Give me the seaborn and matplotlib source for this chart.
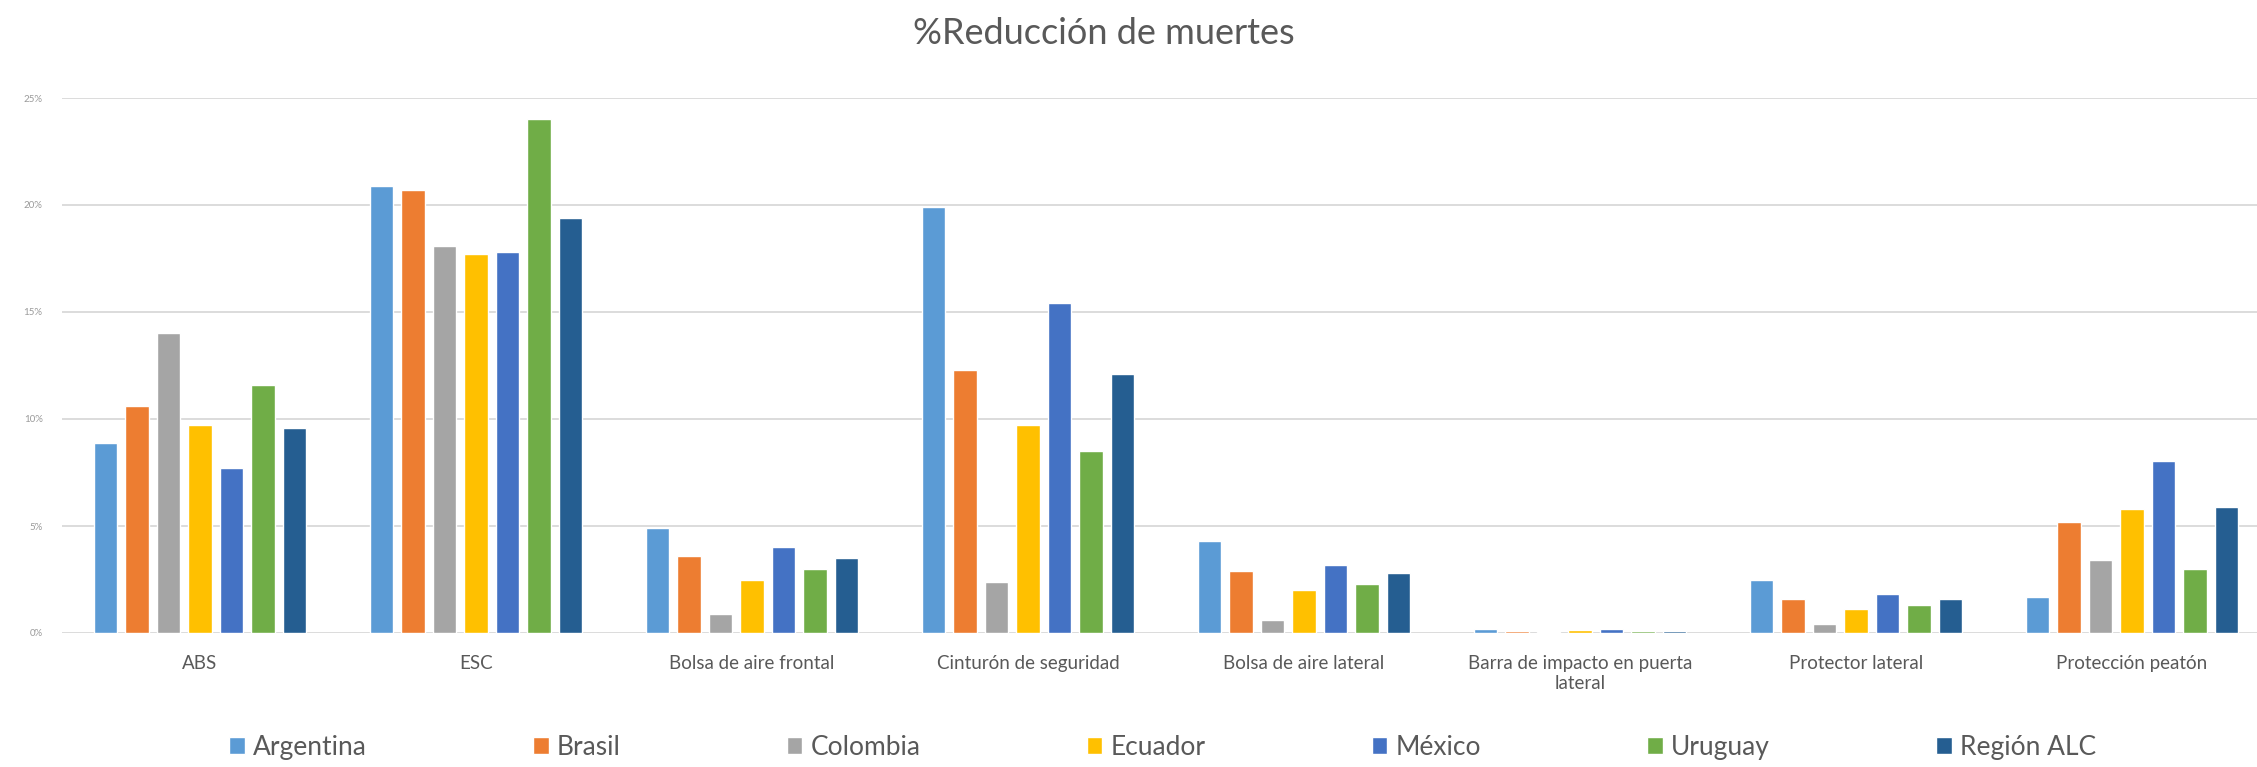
import matplotlib
matplotlib.use("Agg")
import matplotlib.pyplot as plt
import numpy as np
import pandas as pd
import seaborn as sns
from matplotlib.ticker import FuncFormatter

# ---- data (percent) ----
categories = ["ABS", "ESC", "Bolsa de aire frontal", "Cinturón de seguridad",
              "Bolsa de aire lateral", "Barra de impacto en puerta\nlateral",
              "Protector lateral", "Protección peatón"]
countries = ["Argentina", "Brasil", "Colombia", "Ecuador", "México", "Uruguay", "Región ALC"]

argentina  = [8.9, 20.9, 4.9, 19.9, 4.3, 0.17, 2.5, 1.7]
brasil     = [10.6, 20.7, 3.6, 12.3, 2.9, 0.10, 1.6, 5.2]
colombia   = [14.0, 18.1, 0.9, 2.4, 0.6, 0.03, 0.4, 3.4]
ecuador    = [9.7, 17.7, 2.5, 9.7, 2.0, 0.12, 1.1, 5.8]
mexico     = [7.7, 17.8, 4.0, 15.4, 3.2, 0.17, 1.8, 8.05]
uruguay    = [11.6, 24.0, 3.0, 8.5, 2.3, 0.10, 1.3, 3.0]
region_alc = [9.6, 19.4, 3.5, 12.1, 2.8, 0.10, 1.6, 5.9]

yticks = [0, 5, 10, 15, 20, 25]

series = [argentina, brasil, colombia, ecuador, mexico, uruguay, region_alc]
colors = ["#5B9BD5", "#ED7D31", "#A5A5A5", "#FFC000", "#4472C4", "#70AD47", "#255E91"]

df = pd.DataFrame({
    "category": [c for s in series for c in categories],
    "country": [countries[i] for i, s in enumerate(series) for _ in categories],
    "value": [v for s in series for v in s],
})

sns.set_theme(style="white")
plt.rcParams["font.family"] = ["Lato", "DejaVu Sans"]

W, H = 2257, 767
fig = plt.figure(figsize=(W / 100, H / 100), dpi=100)
fig.patch.set_facecolor("white")

left_px, right_px = 62, 2270
top_px, base_px = 98, 633
ax = fig.add_axes([left_px / W, (H - base_px) / H, (right_px - left_px) / W, (base_px - top_px) / H])

sns.barplot(data=df, x="category", y="value", hue="country", order=categories,
            hue_order=countries, palette=colors, saturation=1, errorbar=None,
            width=0.8, gap=0.25, ax=ax)

ax.set_xlim(-0.5, 7.5)
ax.set_ylim(0, 25)
ax.set_yticks(yticks)
ax.yaxis.set_major_formatter(FuncFormatter(lambda v, p: f"{int(v)}%"))
ax.grid(axis="y", color="#D9D9D9", linewidth=1.3)
ax.set_axisbelow(True)
for s in ax.spines.values():
    s.set_visible(False)
ax.set_xlabel("")
ax.set_ylabel("")
ax.tick_params(axis="y", length=0, labelsize=7, labelcolor="#9A9A9A", pad=14)
ax.tick_params(axis="x", length=0, labelsize=13.5, labelcolor="#595959", pad=16)

handles, labels = ax.get_legend_handles_labels()
if ax.get_legend() is not None:
    ax.get_legend().remove()
fig.legend(handles, labels, loc="center", bbox_to_anchor=(0.515, 0.026), ncol=7,
           frameon=False, fontsize=19, labelcolor="#595959",
           handlelength=0.6, handleheight=0.6, handletextpad=0.3, columnspacing=6.3)

fig.text(0.489, 1 - 34 / H, "%Reducción de muertes", ha="center", va="center",
         fontsize=26, color="#595959")

fig.savefig("out.png", dpi=100, facecolor="white")
